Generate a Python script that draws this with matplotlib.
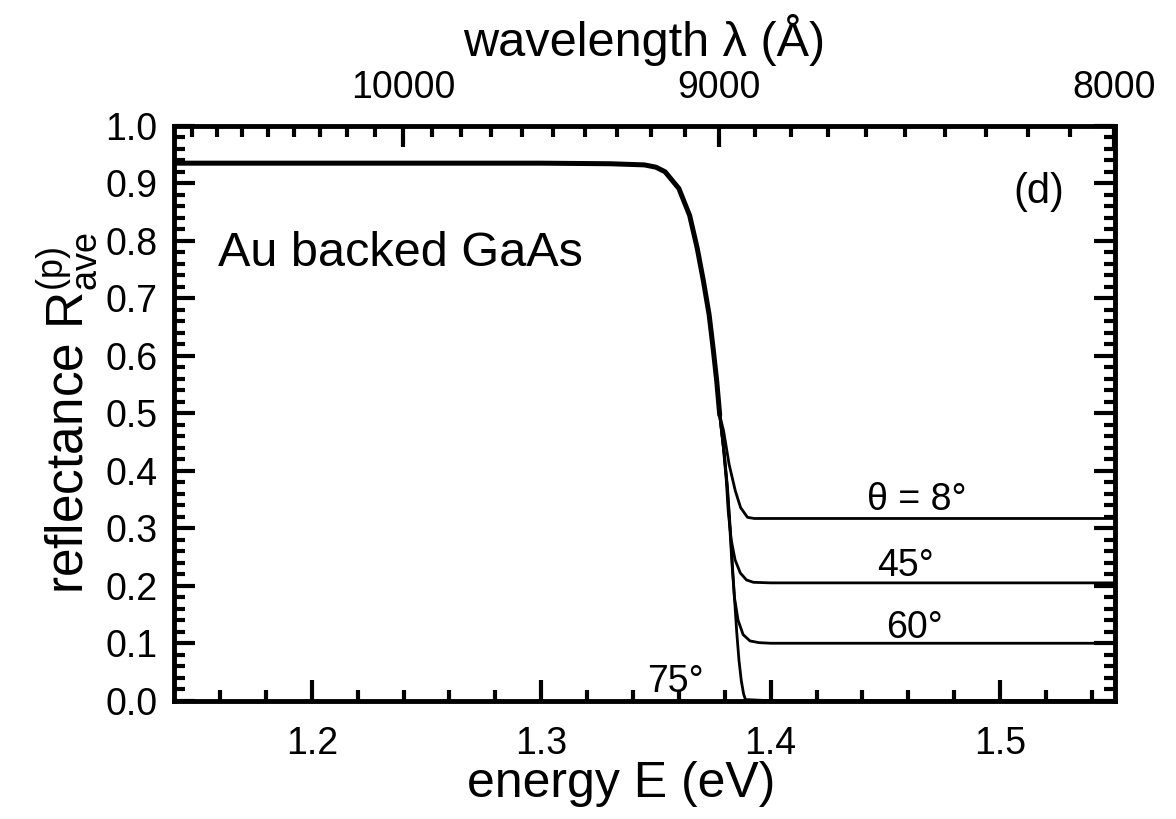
import matplotlib
matplotlib.use('Agg')
import matplotlib.pyplot as plt
import numpy as np

plt.rcParams['font.family'] = ['Liberation Sans', 'DejaVu Sans']
plt.rcParams['mathtext.fontset'] = 'custom'
plt.rcParams['mathtext.rm'] = 'Liberation Sans'
plt.rcParams['mathtext.it'] = 'Liberation Sans:italic'

# below the gap all four angles lie on top of each other
e_common = [1.14, 1.20, 1.26, 1.30, 1.33, 1.345, 1.350, 1.354, 1.360, 1.3647,
            1.368, 1.3707, 1.3732, 1.3749, 1.3765, 1.3778]
r_common = [0.935, 0.935, 0.935, 0.935, 0.934, 0.932, 0.928, 0.920, 0.891, 0.844,
            0.787, 0.730, 0.671, 0.614, 0.556, 0.497]

# branches above the gap, one per angle of incidence
e_8 = [1.3778, 1.3795, 1.3819, 1.3846, 1.3869, 1.3899, 1.3929, 1.40, 1.55]
r_8 = [0.497, 0.469, 0.411, 0.365, 0.336, 0.319, 0.317, 0.317, 0.317]

e_45 = [1.3778, 1.3794, 1.3807, 1.3815, 1.3828, 1.3845, 1.3868, 1.3895, 1.3925, 1.40, 1.55]
r_45 = [0.497, 0.440, 0.382, 0.330, 0.280, 0.245, 0.222, 0.210, 0.206, 0.205, 0.205]

e_60 = [1.3778, 1.3796, 1.3810, 1.3820, 1.3832, 1.3842, 1.3858, 1.3880, 1.3910, 1.3950, 1.40, 1.55]
r_60 = [0.497, 0.435, 0.375, 0.315, 0.235, 0.180, 0.140, 0.115, 0.104, 0.101, 0.100, 0.100]

e_75 = [1.3778, 1.3798, 1.3812, 1.3823, 1.3835, 1.3843, 1.3852, 1.3862, 1.3872, 1.3882, 1.3890, 1.40, 1.55]
r_75 = [0.497, 0.430, 0.370, 0.305, 0.225, 0.175, 0.120, 0.070, 0.035, 0.012, 0.002, 0.0, 0.0]

branches = [(e_8, r_8), (e_45, r_45), (e_60, r_60), (e_75, r_75)]

# curve labels: (E, R, text)
labels = [(1.4636, 0.332, 'θ = 8°'), (1.4587, 0.217, '45°'),
          (1.4626, 0.109, '60°'), (1.3585, 0.016, '75°')]

# top axis in wavelength (Angstrom)
lam_major = [10000, 9000, 8000]
lam_minor = [l for l in range(8100, 10900, 100) if l % 1000 != 0]
HC = 12398.4  # eV * Angstrom

x_major = [1.2, 1.3, 1.4, 1.5]
y_major = [0.0, 0.1, 0.2, 0.3, 0.4, 0.5, 0.6, 0.7, 0.8, 0.9, 1.0]

fig = plt.figure(figsize=(11.76, 8.19), dpi=100)
ax = fig.add_axes([0.148, 0.1444, 0.800, 0.702])

ax.plot(e_common, r_common, color='black', lw=3.6,
        solid_capstyle='round', solid_joinstyle='round')
for e, r in branches:
    ax.plot(e, r, color='black', lw=2.0, solid_joinstyle='round')

ax.set_xlim(1.14, 1.55)
ax.set_ylim(0.0, 1.0)

ax.set_xticks(x_major)
ax.set_xticklabels([f'{v:.1f}' for v in x_major])
ax.set_xticks(np.arange(1.16, 1.549, 0.02), minor=True)
ax.set_yticks(y_major)
ax.set_yticklabels([f'{v:.1f}' for v in y_major])
ax.set_yticks(np.arange(0.0, 1.001, 0.02), minor=True)

ax.tick_params(which='both', direction='in', right=True, top=False, width=3,
               labelsize=27)
ax.tick_params(which='major', length=15)
ax.tick_params(which='minor', length=8)
ax.tick_params(axis='x', which='major', pad=18)
ax.tick_params(axis='y', which='major', pad=12)

for sp in ax.spines.values():
    sp.set_linewidth(3.5)

ax.set_xlabel('energy E (eV)', fontsize=36, labelpad=0)
ax.xaxis.set_label_coords(0.475, -0.105)
ax.set_ylabel(r'reflectance $\mathregular{R^{(p)}_{ave}}$', fontsize=37, labelpad=4)

# wavelength axis on top
ax_top = ax.twiny()
ax_top.set_xlim(ax.get_xlim())
ax_top.set_xticks([HC / l for l in lam_major])
ax_top.set_xticklabels([str(l) for l in lam_major])
ax_top.set_xticks([HC / l for l in lam_minor], minor=True)
ax_top.tick_params(which='both', direction='in', width=3, labelsize=27)
ax_top.tick_params(which='major', length=15, pad=14)
ax_top.tick_params(which='minor', length=8)
for sp in ax_top.spines.values():
    sp.set_visible(False)
ax_top.set_xlabel('wavelength λ (Å)', fontsize=35, labelpad=10)

ax.text(1.159, 0.756, 'Au backed GaAs', fontsize=35, ha='left', va='baseline')
ax.text(1.517, 0.885, '(d)', fontsize=30, ha='center', va='center')
for e, r, t in labels:
    ax.text(e, r, t, fontsize=27, ha='center', va='baseline')

plt.savefig('out.png', dpi=100)
